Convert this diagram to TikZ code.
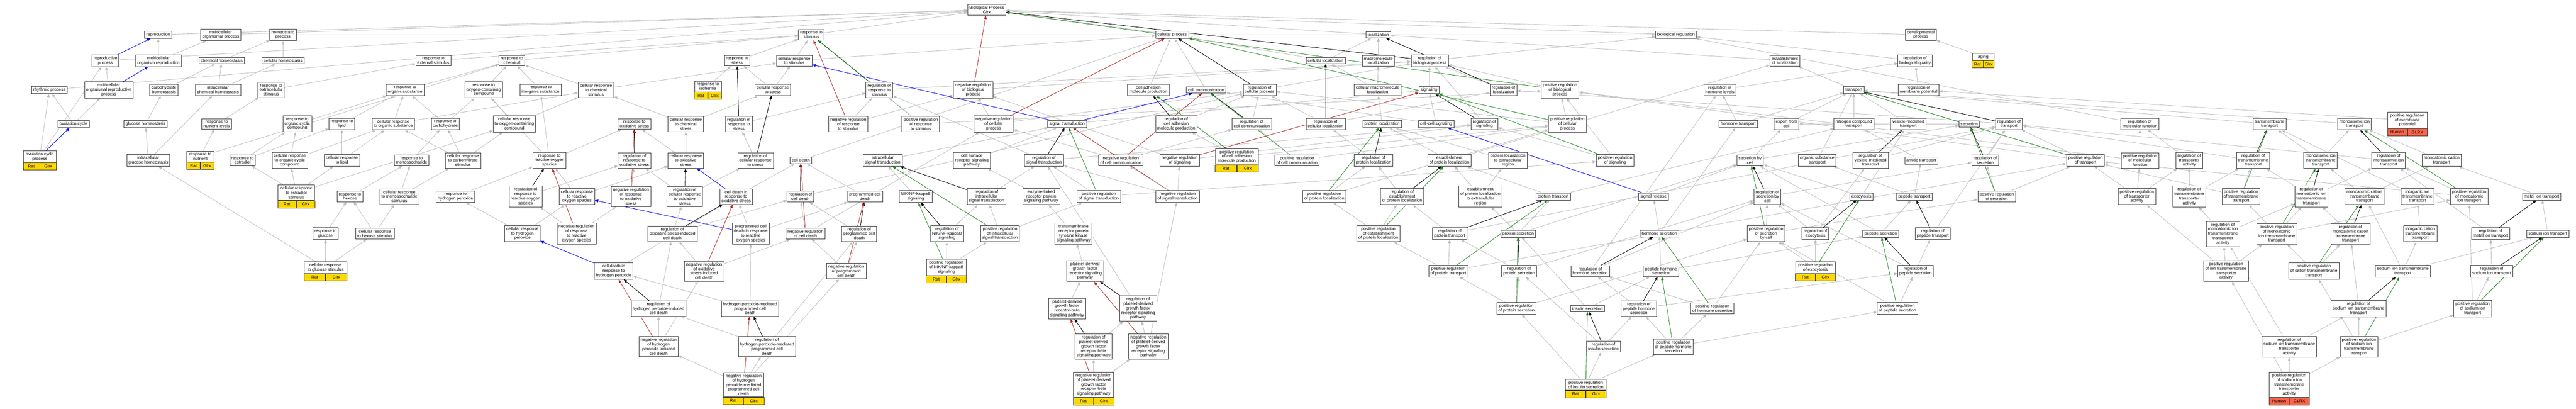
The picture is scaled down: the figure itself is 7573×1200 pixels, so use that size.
\documentclass[tikz,border=0pt]{standalone}
\usepackage{fontspec}
\setmainfont{Liberation Sans}
\usetikzlibrary{arrows.meta,backgrounds}

\definecolor{isagray}{RGB}{190,190,190}
\definecolor{negred}{RGB}{178,34,34}
\definecolor{posgreen}{RGB}{34,139,34}
\definecolor{ratgold}{RGB}{255,215,0}
\definecolor{humred}{RGB}{255,99,71}

\tikzset{
  term/.style={draw=black!75, line width=1.1pt, fill=white, align=center, inner xsep=5pt, inner ysep=4.8pt, font=\fontsize{12.5}{13.3}\selectfont},
  tagrat/.style={term, fill=ratgold, inner sep=0pt, outer sep=0pt, minimum height=21pt, minimum width=#1},
  taghum/.style={tagrat=#1, fill=humred},
  isa/.style={draw=isagray, line width=1.3pt, -{Triangle[length=10pt,width=8pt]}},
  partof/.style={isa, draw=blue},
  regul/.style={isa, draw=black},
  negreg/.style={isa, draw=negred},
  posreg/.style={isa, draw=posgreen},
}

\begin{document}
\begin{tikzpicture}[x=1pt, y=-1pt]
\useasboundingbox (0,0) rectangle (7573,1200);

% Radice
\node[term] (bp) at (2901,29) {Biological Process\\Glrx};

% Riproduzione e omeostasi
\node[term] (repro) at (465,102) {reproduction};
\node[term] (mop) at (649,102) {multicellular\\organismal process};
\node[term] (homp) at (832,102) {homeostatic\\process};
\node[term] (reprp) at (310,178) {reproductive\\process};
\node[term] (mor) at (466,178) {multicellular\\organism reproduction};
\node[term] (chemh) at (652,178) {chemical homeostasis};
\node[term] (cellh) at (832,178) {cellular homeostasis};
\node[term] (rhyth) at (145,264) {rhythmic process};
\node[term] (morp) at (320,264) {multicellular\\organismal reproductive\\process};
\node[term] (carbh) at (482,264) {carbohydrate\\homeostasis};
\node[term] (ichemh) at (641,264) {intracellular\\chemical homeostasis};
\node[term] (ovc) at (216,364) {ovulation cycle};
\node[term] (gluh) at (428,364) {glucose homeostasis};
\node[term] (rnutl) at (637,364) {response to\\nutrient levels};
\node[term, minimum width=97pt] (ovcp) at (117,460) {ovulation cycle\\process};
\node[tagrat=48.5pt, anchor=north west] (ovcp-s) at (ovcp.south west) {Rat};
\node[tagrat=48.5pt, anchor=north east] (ovcp-g) at (ovcp.south east) {Glrx};
\node[term] (iglu) at (436,471) {intracellular\\glucose homeostasis};
\node[term, minimum width=79pt] (rnut) at (589,460) {response to\\nutrient};
\node[tagrat=39.5pt, anchor=north west] (rnut-s) at (rnut.south west) {Rat};
\node[tagrat=39.5pt, anchor=north east] (rnut-g) at (rnut.south east) {Glrx};

% Risposta a sostanze chimiche
\node[term] (rext) at (1274,178) {response to\\external stimulus};
\node[term] (rextra) at (797,264) {response to\\extracellular\\stimulus};
\node[term] (rorg) at (1191,264) {response to\\organic substance};
\node[term] (rocc) at (874,364) {response to\\organic cyclic\\compound};
\node[term] (rlip) at (1005,364) {response to\\lipid};
\node[term] (crorg) at (1156,364) {cellular response\\to organic substance};
\node[term] (rcarb) at (1309,364) {response to\\carbohydrate};
\node[term] (restr) at (713,471) {response to\\estradiol};
\node[term] (crocc) at (852,471) {cellular response\\to organic cyclic\\compound};
\node[term] (crlip) at (1005,471) {cellular response\\to lipid};
\node[term] (rmono) at (1210,471) {response to\\monosaccharide};
\node[term, minimum width=108pt] (crestr) at (871,566) {cellular response\\to estradiol\\stimulus};
\node[tagrat=54pt, anchor=north west] (crestr-s) at (crestr.south west) {Rat};
\node[tagrat=54pt, anchor=north east] (crestr-g) at (crestr.south east) {Glrx};
\node[term] (rhex) at (1029,577) {response to\\hexose};
\node[term] (crmono) at (1174,577) {cellular response\\to monosaccharide\\stimulus};
\node[term] (rglu) at (957,686) {response to\\glucose};
\node[term] (crhex) at (1102,686) {cellular response\\to hexose stimulus};
\node[term, minimum width=125pt] (crglu) at (957,786) {cellular response\\to glucose stimulus};
\node[tagrat=62.5pt, anchor=north west] (crglu-s) at (crglu.south west) {Rat};
\node[tagrat=62.5pt, anchor=north east] (crglu-g) at (crglu.south east) {Glrx};

\node[term] (rchem) at (1505,178) {response to\\chemical};
\node[term] (roxy) at (1422,264) {response to\\oxygen-containing\\compound};
\node[term] (rinorg) at (1589,264) {response to\\inorganic substance};
\node[term] (crchem) at (1752,264) {cellular response\\to chemical\\stimulus};
\node[term] (croxy) at (1512,364) {cellular response\\to oxygen-containing\\compound};
\node[term] (roxs) at (1865,364) {response to\\oxidative stress};
\node[term] (crcarb) at (1361,471) {cellular response\\to carbohydrate\\stimulus};
\node[term] (rros) at (1615,471) {response to\\reactive oxygen\\species};
\node[term] (rroxs) at (1865,471) {regulation of\\response to\\oxidative stress};
\node[term] (rh2o2) at (1339,577) {response to\\hydrogen peroxide};
\node[term] (rrros) at (1545,577) {regulation of\\response to\\reactive oxygen\\species};
\node[term] (crros) at (1696,577) {cellular response\\to reactive\\oxygen species};
\node[term] (nrroxs) at (1855,577) {negative regulation\\of response\\to oxidative\\stress};
\node[term] (crh2o2) at (1536,686) {cellular response\\to hydrogen\\peroxide};
\node[term] (nrrros) at (1695,686) {negative regulation\\of response\\to reactive\\oxygen species};
\node[term] (cdh2o2) at (1804,796) {cell death in\\response to\\hydrogen peroxide};
\node[term] (rhicd) at (1936,906) {regulation of\\hydrogen peroxide-induced\\cell death};
\node[term] (nrhicd) at (1936,1018) {negative regulation\\of hydrogen\\peroxide-induced\\cell death};

% Stress e morte cellulare
\node[term] (rstim) at (2385,102) {response to\\stimulus};
\node[term] (rstress) at (2167,178) {response to\\stress};
\node[term] (crstim) at (2335,178) {cellular response\\to stimulus};
\node[term, minimum width=79pt] (risch) at (2081,254) {response to\\ischemia};
\node[tagrat=39.5pt, anchor=north west] (risch-s) at (risch.south west) {Rat};
\node[tagrat=39.5pt, anchor=north east] (risch-g) at (risch.south east) {Glrx};
\node[term] (crstress) at (2272,264) {cellular response\\to stress};
\node[term] (crcs) at (2016,364) {cellular response\\to chemical\\stress};
\node[term] (rrstress) at (2172,364) {regulation of\\response to\\stress};
\node[term] (nrrstim) at (2494,364) {negative regulation\\of response\\to stimulus};
\node[term] (croxs) at (2016,471) {cellular response\\to oxidative\\stress};
\node[term] (rcrstress) at (2221,471) {regulation of\\cellular response\\to stress};
\node[term] (cdeath) at (2354,471) {cell death};
\node[term] (rcroxs) at (2013,577) {regulation of\\cellular response\\to oxidative\\stress};
\node[term] (cdoxs) at (2164,577) {cell death in\\response to\\oxidative stress};
\node[term] (rcd) at (2353,577) {regulation of\\cell death};
\node[term] (pcd) at (2543,577) {programmed cell\\death};
\node[term] (rosicd) at (1977,686) {regulation of\\oxidative stress-induced\\cell death};
\node[term] (pcdros) at (2207,686) {programmed cell\\death in response\\to reactive\\oxygen species};
\node[term] (nrcd) at (2368,686) {negative regulation\\of cell death};
\node[term] (rpcd) at (2526,686) {regulation of\\programmed cell\\death};
\node[term] (nrosicd) at (2070,796) {negative regulation\\of oxidative\\stress-induced\\cell death};
\node[term] (nrpcd) at (2488,796) {negative regulation\\of programmed\\cell death};
\node[term] (hpcd) at (2205,906) {hydrogen peroxide-mediated\\programmed cell\\death};
\node[term] (rhpcd) at (2255,1018) {regulation of\\hydrogen peroxide-mediated\\programmed cell\\death};
\node[term, minimum width=119pt] (nrhpcd) at (2186,1130) {negative regulation\\of hydrogen\\peroxide-mediated\\programmed cell\\death};
\node[tagrat=59.5pt, anchor=north west] (nrhpcd-s) at (nrhpcd.south west) {Rat};
\node[tagrat=59.5pt, anchor=north east] (nrhpcd-g) at (nrhpcd.south east) {Glrx};

% Trasduzione del segnale
\node[term] (rrstim) at (2585,264) {regulation of\\response to\\stimulus};
\node[term] (nrbp) at (2861,264) {negative regulation\\of biological\\process};
\node[term] (prrstim) at (2707,364) {positive regulation\\of response\\to stimulus};
\node[term] (nrcp) at (2921,364) {negative regulation\\of cellular\\process};
\node[term] (sigtr) at (3137,364) {signal transduction};
\node[term] (ist) at (2595,471) {intracellular\\signal transduction};
\node[term] (csrsp) at (2857,471) {cell surface\\receptor signaling\\pathway};
\node[term] (rst) at (3069,471) {regulation of\\signal transduction};
\node[term] (nfkb) at (2692,577) {NIK/NF-kappaB\\signaling};
\node[term] (rist) at (2900,577) {regulation of\\intracellular\\signal transduction};
\node[term] (elrp) at (3061,577) {enzyme-linked\\receptor protein\\signaling pathway};
\node[term] (rnfkb) at (2784,686) {regulation of\\NIK/NF-kappaB\\signaling};
\node[term] (prist) at (2940,686) {positive regulation\\of intracellular\\signal transduction};
\node[term] (rtk) at (3156,686) {transmembrane\\receptor protein\\tyrosine kinase\\signaling pathway};
\node[term, minimum width=117pt] (prnfkb) at (2782,785) {positive regulation\\of NIK/NF-kappaB\\signaling};
\node[tagrat=58.5pt, anchor=north west] (prnfkb-s) at (prnfkb.south west) {Rat};
\node[tagrat=58.5pt, anchor=north east] (prnfkb-g) at (prnfkb.south east) {Glrx};
\node[term] (pdgf) at (3190,796) {platelet-derived\\growth factor\\receptor signaling\\pathway};
\node[term] (pdgfb) at (3137,906) {platelet-derived\\growth factor\\receptor-beta\\signaling pathway};
\node[term] (rpdgfb) at (3215,1018) {regulation of\\platelet-derived\\growth factor\\receptor-beta\\signaling pathway};
\node[term, minimum width=118pt] (nrpdgfb) at (3215,1130) {negative regulation\\of platelet-derived\\growth factor\\receptor-beta\\signaling pathway};
\node[tagrat=59pt, anchor=north west] (nrpdgfb-s) at (nrpdgfb.south west) {Rat};
\node[tagrat=59pt, anchor=north east] (nrpdgfb-g) at (nrpdgfb.south east) {Glrx};

% Comunicazione cellulare
\node[term] (cproc) at (3446,102) {cellular process};
\node[term] (camp) at (3376,264) {cell adhesion\\molecule production};
\node[term] (ccomm) at (3546,264) {cell communication};
\node[term] (rcp) at (3703,264) {regulation of\\cellular process};
\node[term] (rcamp) at (3458,364) {regulation of\\cell adhesion\\molecule production};
\node[term] (rcc) at (3680,364) {regulation of\\cell communication};
\node[term] (nrcc) at (3295,471) {negative regulation\\of cell communication};
\node[term] (nrsig) at (3468,471) {negative regulation\\of signaling};
\node[term, minimum width=126pt] (prcamp) at (3636,460) {positive regulation\\of cell adhesion\\molecule production};
\node[tagrat=63pt, anchor=north west] (prcamp-s) at (prcamp.south west) {Rat};
\node[tagrat=63pt, anchor=north east] (prcamp-g) at (prcamp.south east) {Glrx};
\node[term] (prcc) at (3813,471) {positive regulation\\of cell communication};
\node[term] (prst) at (3230,577) {positive regulation\\of signal transduction};
\node[term] (nrst) at (3462,577) {negative regulation\\of signal transduction};
\node[term] (rpdgf) at (3346,906) {regulation of\\platelet-derived\\growth factor\\receptor signaling\\pathway};
\node[term] (nrpdgf) at (3376,1018) {negative regulation\\of platelet-derived\\growth factor\\receptor signaling\\pathway};

% Localizzazione
\node[term] (loc) at (4052,102) {localization};
\node[term] (cloc) at (3897,178) {cellular localization};
\node[term] (mloc) at (4052,178) {macromolecule\\localization};
\node[term] (rbp) at (4203,178) {regulation of\\biological process};
\node[term] (cmloc) at (4050,264) {cellular macromolecule\\localization};
\node[term] (sig) at (4201,264) {signaling};
\node[term] (rloc) at (4420,264) {regulation of\\localization};
\node[term] (rcloc) at (3897,364) {regulation of\\cellular localization};
\node[term] (ploc) at (4063,364) {protein localization};
\node[term] (ccsig) at (4222,364) {cell-cell signaling};
\node[term] (rsig) at (4364,364) {regulation of\\signaling};
\node[term] (rploc) at (4038,471) {regulation of\\protein localization};
\node[term] (eploc) at (4261,471) {establishment\\of protein localization};
\node[term] (pler) at (4433,471) {protein localization\\to extracellular\\region};
\node[term] (prploc) at (3893,577) {positive regulation\\of protein localization};
\node[term] (reploc) at (4122,577) {regulation of\\establishment\\of protein localization};
\node[term] (epler) at (4352,577) {establishment\\of protein localization\\to extracellular\\region};
\node[term] (preploc) at (4052,686) {positive regulation\\of establishment\\of protein localization};
\node[term] (rpt) at (4262,686) {regulation of\\protein transport};
\node[term] (prpt) at (4258,796) {positive regulation\\of protein transport};

% Secrezione
\node[term] (breg) at (4927,102) {biological regulation};
\node[term] (prbp) at (4586,264) {positive regulation\\of biological\\process};
\node[term] (rhl) at (5056,264) {regulation of\\hormone levels};
\node[term] (prcp) at (4608,364) {positive regulation\\of cellular\\process};
\node[term] (prsig) at (4748,471) {positive regulation\\of signaling};
\node[term] (ptrans) at (4566,577) {protein transport};
\node[term] (srel) at (4861,577) {signal release};
\node[term] (psec) at (4463,686) {protein secretion};
\node[term] (hsec) at (4878,686) {hormone secretion};
\node[term] (rpsec) at (4466,796) {regulation of\\protein secretion};
\node[term] (rhsec) at (4675,796) {regulation of\\hormone secretion};
\node[term] (phsec) at (4883,796) {peptide hormone\\secretion};
\node[term] (prpsec) at (4458,906) {positive regulation\\of protein secretion};
\node[term] (isec) at (4667,906) {insulin secretion};
\node[term] (rphsec) at (4818,906) {regulation of\\peptide hormone\\secretion};
\node[term] (prhsec) at (5034,906) {positive regulation\\of hormone secretion};
\node[term] (risec) at (4714,1018) {regulation of\\insulin secretion};
\node[term] (prphsec) at (4919,1018) {positive regulation\\of peptide hormone\\secretion};
\node[term, minimum width=119pt] (prisec) at (4662,1130) {positive regulation\\of insulin secretion};
\node[tagrat=59.5pt, anchor=north west] (prisec-s) at (prisec.south west) {Rat};
\node[tagrat=59.5pt, anchor=north east] (prisec-g) at (prisec.south east) {Glrx};

% Trasporto
\node[term] (devp) at (5647,102) {developmental\\process};
\node[term] (eloc) at (5247,178) {establishment\\of localization};
\node[term] (rbq) at (5630,178) {regulation of\\biological quality};
\node[term, minimum width=64pt] (aging) at (5830,167) {aging};
\node[tagrat=32pt, anchor=north west] (aging-s) at (aging.south west) {Rat};
\node[tagrat=32pt, anchor=north east] (aging-g) at (aging.south east) {Glrx};
\node[term] (transp) at (5450,264) {transport};
\node[term] (rmp) at (5640,264) {regulation of\\membrane potential};
\node[term] (htrans) at (5110,364) {hormone transport};
\node[term] (expc) at (5252,364) {export from\\cell};
\node[term] (nct) at (5450,364) {nitrogen compound\\transport};
\node[term] (vmt) at (5610,364) {vesicle-mediated\\transport};
\node[term] (secc) at (5145,471) {secretion by\\cell};
\node[term] (ost) at (5342,471) {organic substance\\transport};
\node[term] (rvmt) at (5499,471) {regulation of\\vesicle-mediated\\transport};
\node[term] (amide) at (5648,471) {amide transport};
\node[term] (rsecc) at (5196,577) {regulation of\\secretion by\\cell};
\node[term] (exo) at (5472,577) {exocytosis};
\node[term] (pept) at (5628,577) {peptide transport};
\node[term] (prsecc) at (5192,686) {positive regulation\\of secretion\\by cell};
\node[term] (rexo) at (5337,686) {regulation of\\exocytosis};
\node[term] (psecr) at (5529,686) {peptide secretion};
\node[term] (rpept) at (5682,686) {regulation of\\peptide transport};
\node[term, minimum width=117pt] (prexo) at (5337,786) {positive regulation\\of exocytosis};
\node[tagrat=58.5pt, anchor=north west] (prexo-s) at (prexo.south west) {Rat};
\node[tagrat=58.5pt, anchor=north east] (prexo-g) at (prexo.south east) {Glrx};
\node[term] (rpsecr) at (5631,796) {regulation of\\peptide secretion};
\node[term] (prpsecr) at (5578,906) {positive regulation\\of peptide secretion};

\node[term] (secr) at (5789,364) {secretion};
\node[term] (rtrans) at (5906,364) {regulation of\\transport};
\node[term] (rmf) at (6291,364) {regulation of\\molecular function};
\node[term] (rsecr) at (5836,471) {regulation of\\secretion};
\node[term] (prtrans) at (6131,471) {positive regulation\\of transport};
\node[term] (prmf) at (6291,471) {positive regulation\\of molecular\\function};
\node[term] (prsecr) at (5870,577) {positive regulation\\of secretion};
\node[term] (prta) at (6282,577) {positive regulation\\of transporter\\activity};

% Trasporto di ioni
\node[term] (tmt) at (6672,364) {transmembrane\\transport};
\node[term] (mit) at (6922,364) {monoatomic ion\\transport};
\node[term, minimum width=116pt] (prmp) at (7077,353) {positive regulation\\of membrane\\potential};
\node[taghum=58pt, anchor=north west] (prmp-s) at (prmp.south west) {Human};
\node[taghum=58pt, anchor=north east] (prmp-g) at (prmp.south east) {GLRX};
\node[term] (rta) at (6436,471) {regulation of\\transporter\\activity};
\node[term] (rtmt) at (6624,471) {regulation of\\transmembrane\\transport};
\node[term] (mitt) at (6822,471) {monoatomic ion\\transmembrane\\transport};
\node[term] (rmit) at (7022,471) {regulation of\\monoatomic ion\\transport};
\node[term] (mct) at (7178,471) {monoatomic cation\\transport};
\node[term] (rtmta) at (6436,577) {regulation of\\transmembrane\\transporter\\activity};
\node[term] (prtmt) at (6588,577) {positive regulation\\of transmembrane\\transport};
\node[term] (rmitt) at (6795,577) {regulation of\\monoatomic ion\\transmembrane\\transport};
\node[term] (mctt) at (6951,577) {monoatomic cation\\transmembrane\\transport};
\node[term] (iitt) at (7107,577) {inorganic ion\\transmembrane\\transport};
\node[term] (prmit) at (7259,577) {positive regulation\\of monoatomic\\ion transport};
\node[term] (metal) at (7472,577) {metal ion transport};
\node[term] (rmitta) at (6535,687) {regulation of\\monoatomic ion\\transmembrane\\transporter\\activity};
\node[term] (prmitt) at (6693,687) {positive regulation\\of monoatomic\\ion transmembrane\\transport};
\node[term] (rmctt) at (6910,687) {regulation of\\monoatomic cation\\transmembrane\\transport};
\node[term] (ictt) at (7115,686) {inorganic cation\\transmembrane\\transport};
\node[term] (rmetal) at (7322,686) {regulation of\\metal ion transport};
\node[term] (sodium) at (7490,686) {sodium ion transport};
\node[term] (pritta) at (6544,796) {positive regulation\\of ion transmembrane\\transporter\\activity};
\node[term] (prctt) at (6802,796) {positive regulation\\of cation transmembrane\\transport};
\node[term] (sitt) at (7064,796) {sodium ion transmembrane\\transport};
\node[term] (rsit) at (7325,796) {regulation of\\sodium ion transport};
\node[term] (rsitt) at (6934,906) {regulation of\\sodium ion transmembrane\\transport};
\node[term] (prsit) at (7269,906) {positive regulation\\of sodium ion\\transport};
\node[term] (rsitta) at (6730,1018) {regulation of\\sodium ion transmembrane\\transporter\\activity};
\node[term] (prsitt) at (6935,1018) {positive regulation\\of sodium ion\\transmembrane\\transport};
\node[term, minimum width=117pt] (prsitta) at (6730,1130) {positive regulation\\of sodium ion\\transmembrane\\transporter\\activity};
\node[taghum=58.5pt, anchor=north west] (prsitta-s) at (prsitta.south west) {Human};
\node[taghum=58.5pt, anchor=north east] (prsitta-g) at (prsitta.south east) {GLRX};

% Archi
\begin{scope}[on background layer]
\fill[white] (0,0) rectangle (7573,1200);
\draw[isa] (repro) -- (bp); \draw[isa] (mop) -- (bp); \draw[isa] (reprp) -- (bp);
\draw[isa] (rhyth) -- (bp); \draw[isa] (rstim) -- (bp); \draw[isa] (cproc) -- (bp);
\draw[isa] (loc) -- (bp); \draw[isa] (breg) -- (bp); \draw[isa] (devp) -- (bp);
\draw[regul] (rbp) -- (bp); \draw[negreg] (nrbp) -- (bp); \draw[posreg] (prbp) -- (bp);

\draw[partof] (reprp) -- (repro); \draw[isa] (mor) -- (repro); \draw[isa] (mor) -- (mop);
\draw[isa] (morp) -- (reprp); \draw[partof] (morp) -- (mor);
\draw[isa] (ovcp) -- (rhyth); \draw[partof] (ovcp) -- (ovc); \draw[isa] (ovcp) -- (reprp);
\draw[isa] (ovc) -- (rhyth); \draw[isa] (ovc) -- (morp);
\draw[isa] (carbh) -- (chemh); \draw[isa] (gluh) -- (carbh);
\draw[isa] (iglu) -- (gluh); \draw[isa] (iglu) -- (ichemh);
\draw[isa] (rnut) -- (rnutl); \draw[isa] (rnut) -- (rchem);
\draw[isa] (chemh) -- (homp); \draw[isa] (ichemh) -- (chemh); \draw[isa] (ichemh) -- (cellh);
\draw[isa] (cellh) -- (homp); \draw[isa] (homp) -- (breg);
\draw[isa] (rnutl) -- (rextra); \draw[isa] (rextra) -- (rext); \draw[isa] (rext) -- (rstim);
\draw[isa] (crglu) -- (iglu);

\draw[isa] (restr) -- (rocc); \draw[isa] (restr) -- (rlip);
\draw[isa] (rocc) -- (rorg); \draw[isa] (rlip) -- (rorg);
\draw[isa] (crocc) -- (rocc); \draw[isa] (crocc) -- (crorg);
\draw[isa] (crlip) -- (rlip); \draw[isa] (crlip) -- (crorg);
\draw[isa] (crorg) -- (rorg); \draw[isa] (crorg) -- (crchem); \draw[isa] (rorg) -- (rchem);
\draw[isa] (crestr) -- (restr); \draw[isa] (crestr) -- (crocc);
\draw[isa] (crestr) -- (crlip); \draw[isa] (crestr) -- (croxy);
\draw[isa] (rmono) -- (rcarb); \draw[isa] (rhex) -- (rmono);
\draw[isa] (crmono) -- (rmono); \draw[isa] (crmono) -- (crcarb);
\draw[isa] (rglu) -- (rhex); \draw[isa] (crhex) -- (rhex); \draw[isa] (crhex) -- (crmono);
\draw[isa] (crglu) -- (rglu); \draw[isa] (crglu) -- (crhex);

\draw[isa] (roxy) -- (rchem); \draw[isa] (rinorg) -- (rchem);
\draw[isa] (crchem) -- (rchem); \draw[isa] (crchem) -- (crstim);
\draw[isa] (rcarb) -- (roxy); \draw[isa] (rcarb) -- (rorg);
\draw[isa] (croxy) -- (roxy); \draw[isa] (croxy) -- (crchem);
\draw[isa] (crcarb) -- (rcarb); \draw[isa] (crcarb) -- (croxy); \draw[isa] (crcarb) -- (crorg);
\draw[isa] (rros) -- (roxs); \draw[isa] (rros) -- (rinorg); \draw[isa] (rros) -- (roxy);
\draw[isa] (rh2o2) -- (rros);
\draw[regul] (rroxs) -- (roxs);
\draw[regul] (rrros) -- (rros); \draw[isa] (rrros) -- (rroxs);
\draw[isa] (crros) -- (rros); \draw[isa] (crros) -- (croxs);
\draw[negreg] (nrroxs) -- (roxs); \draw[isa] (nrroxs) -- (rroxs);
\draw[isa] (crh2o2) -- (rh2o2); \draw[isa] (crh2o2) -- (crros);
\draw[negreg] (nrrros) -- (rros); \draw[isa] (nrrros) -- (rrros); \draw[isa] (nrrros) -- (nrroxs);
\draw[partof] (cdh2o2) -- (crh2o2); \draw[isa] (cdh2o2) -- (cdoxs);
\draw[partof] (pcdros) -- (crros);

\draw[isa] (rstress) -- (rstim); \draw[isa] (crstim) -- (rstim); \draw[isa] (rchem) -- (rstim);
\draw[isa] (crstim) -- (cproc); \draw[isa] (risch) -- (rstress);
\draw[isa] (crstress) -- (rstress); \draw[isa] (crstress) -- (crstim);
\draw[regul] (rrstress) -- (rstress); \draw[isa] (rrstress) -- (rrstim);
\draw[isa] (crcs) -- (crstress); \draw[isa] (crcs) -- (crchem);
\draw[isa] (croxs) -- (crcs); \draw[isa] (croxs) -- (roxs);
\draw[isa] (rcrstress) -- (rrstress); \draw[regul] (rcrstress) -- (crstress);
\draw[regul] (rcroxs) -- (croxs); \draw[isa] (rcroxs) -- (rcrstress); \draw[isa] (rcroxs) -- (rroxs);
\draw[partof] (cdoxs) -- (croxs); \draw[isa] (cdoxs) -- (cdeath);
\draw[isa] (pcdros) -- (cdoxs); \draw[isa] (pcdros) -- (pcd);
\draw[regul] (rcd) -- (cdeath); \draw[isa] (rcd) -- (rcp);
\draw[negreg] (nrcd) -- (cdeath); \draw[isa] (nrcd) -- (rcd); \draw[isa] (nrcd) -- (nrcp);
\draw[isa] (pcd) -- (cdeath); \draw[isa] (cdeath) -- (cproc);
\draw[regul] (rpcd) -- (pcd); \draw[isa] (rpcd) -- (rcd);
\draw[isa] (nrpcd) -- (rpcd); \draw[isa] (nrpcd) -- (nrcd); \draw[negreg] (nrpcd) -- (pcd);
\draw[regul] (rosicd) -- (cdoxs); \draw[isa] (rosicd) -- (rcd); \draw[isa] (rosicd) -- (rcroxs);
\draw[isa] (nrosicd) -- (rosicd); \draw[negreg] (nrosicd) -- (cdoxs); \draw[isa] (nrosicd) -- (nrcd);
\draw[isa] (rhicd) -- (rosicd); \draw[regul] (rhicd) -- (cdh2o2);
\draw[isa] (hpcd) -- (cdh2o2); \draw[isa] (hpcd) -- (pcdros);
\draw[isa] (nrhicd) -- (rhicd); \draw[isa] (nrhicd) -- (nrosicd); \draw[negreg] (nrhicd) -- (cdh2o2);
\draw[regul] (rhpcd) -- (hpcd); \draw[isa] (rhpcd) -- (rhicd); \draw[isa] (rhpcd) -- (rpcd);
\draw[negreg] (nrhpcd) -- (hpcd); \draw[isa] (nrhpcd) -- (rhpcd);
\draw[isa] (nrhpcd) -- (nrhicd); \draw[isa] (nrhpcd) -- (nrpcd);

\draw[regul] (rrstim) -- (rstim); \draw[isa] (rrstim) -- (rbp);
\draw[posreg] (prrstim) -- (rstim); \draw[isa] (prrstim) -- (rrstim); \draw[isa] (prrstim) -- (prbp);
\draw[negreg] (nrrstim) -- (rstim); \draw[isa] (nrrstim) -- (rrstim); \draw[isa] (nrrstim) -- (nrbp);
\draw[isa] (nrbp) -- (rbp);
\draw[negreg] (nrcp) -- (cproc); \draw[isa] (nrcp) -- (nrbp); \draw[isa] (nrcp) -- (rcp);
\draw[partof] (sigtr) -- (crstim); \draw[partof] (sigtr) -- (ccomm); \draw[isa] (sigtr) -- (sig);
\draw[isa] (ist) -- (sigtr); \draw[isa] (csrsp) -- (sigtr);
\draw[regul] (rst) -- (sigtr); \draw[isa] (rst) -- (rsig); \draw[isa] (rst) -- (rrstim);
\draw[isa] (nfkb) -- (ist);
\draw[regul] (rist) -- (ist); \draw[isa] (rist) -- (rst);
\draw[isa] (elrp) -- (csrsp);
\draw[regul] (rnfkb) -- (nfkb); \draw[isa] (rnfkb) -- (rist);
\draw[posreg] (prist) -- (ist); \draw[isa] (prist) -- (rist); \draw[isa] (prist) -- (prst);
\draw[isa] (rtk) -- (elrp);
\draw[posreg] (prnfkb) -- (nfkb); \draw[isa] (prnfkb) -- (rnfkb); \draw[isa] (prnfkb) -- (prist);
\draw[isa] (pdgf) -- (rtk); \draw[isa] (pdgfb) -- (pdgf);
\draw[regul] (rpdgfb) -- (pdgfb); \draw[isa] (rpdgfb) -- (rpdgf);
\draw[negreg] (nrpdgfb) -- (pdgfb); \draw[isa] (nrpdgfb) -- (rpdgfb); \draw[isa] (nrpdgfb) -- (nrpdgf);

\draw[isa] (camp) -- (cproc); \draw[isa] (ccomm) -- (cproc);
\draw[regul] (rcp) -- (cproc); \draw[isa] (rcp) -- (rbp);
\draw[regul] (rcamp) -- (camp); \draw[isa] (rcamp) -- (rcp);
\draw[regul] (rcc) -- (ccomm); \draw[isa] (rcc) -- (rcp);
\draw[posreg] (prcamp) -- (camp); \draw[isa] (prcamp) -- (rcamp); \draw[isa] (prcamp) -- (prcp);
\draw[negreg] (nrcc) -- (ccomm); \draw[isa] (nrcc) -- (rcc); \draw[isa] (nrcc) -- (nrcp);
\draw[negreg] (nrsig) -- (sig); \draw[isa] (nrsig) -- (rsig); \draw[isa] (nrsig) -- (nrbp);
\draw[posreg] (prcc) -- (ccomm); \draw[isa] (prcc) -- (rcc); \draw[isa] (prcc) -- (prcp);
\draw[posreg] (prst) -- (sigtr); \draw[isa] (prst) -- (rst); \draw[isa] (prst) -- (prsig);
\draw[negreg] (nrst) -- (sigtr); \draw[isa] (nrst) -- (nrsig); \draw[isa] (nrst) -- (rst); \draw[isa] (nrst) -- (nrcc);
\draw[regul] (rpdgf) -- (pdgf); \draw[isa] (rpdgf) -- (rst);
\draw[negreg] (nrpdgf) -- (pdgf); \draw[isa] (nrpdgf) -- (rpdgf); \draw[isa] (nrpdgf) -- (nrst);

\draw[isa] (cloc) -- (loc); \draw[isa] (cloc) -- (cproc); \draw[isa] (mloc) -- (loc);
\draw[isa] (rbp) -- (breg);
\draw[regul] (rloc) -- (loc); \draw[isa] (rloc) -- (rbp);
\draw[isa] (cmloc) -- (mloc); \draw[isa] (cmloc) -- (cloc);
\draw[isa] (sig) -- (rbp);
\draw[regul] (rcloc) -- (cloc); \draw[isa] (rcloc) -- (rloc); \draw[isa] (rcloc) -- (rcp);
\draw[isa] (ploc) -- (cmloc);
\draw[isa] (ccsig) -- (sig); \draw[isa] (ccsig) -- (ccomm);
\draw[regul] (rsig) -- (sig); \draw[isa] (rsig) -- (rbp);
\draw[regul] (rploc) -- (ploc); \draw[isa] (rploc) -- (rcloc);
\draw[isa] (eploc) -- (ploc); \draw[isa] (eploc) -- (eloc); \draw[isa] (pler) -- (ploc);
\draw[posreg] (prploc) -- (ploc); \draw[isa] (prploc) -- (rploc); \draw[isa] (prploc) -- (prcp);
\draw[regul] (reploc) -- (eploc); \draw[isa] (reploc) -- (rploc);
\draw[isa] (epler) -- (eploc); \draw[isa] (epler) -- (pler);
\draw[posreg] (preploc) -- (eploc); \draw[isa] (preploc) -- (reploc); \draw[isa] (preploc) -- (prploc);
\draw[isa] (rpt) -- (reploc); \draw[regul] (rpt) -- (ptrans); \draw[isa] (rpt) -- (rtrans);
\draw[isa] (prpt) -- (rpt); \draw[isa] (prpt) -- (preploc); \draw[posreg] (prpt) -- (ptrans); \draw[isa] (prpt) -- (prtrans);

\draw[isa] (rhl) -- (rbq); \draw[isa] (prbp) -- (rbp);
\draw[isa] (prcp) -- (prbp); \draw[posreg] (prcp) -- (cproc); \draw[isa] (prcp) -- (rcp);
\draw[posreg] (prsig) -- (sig); \draw[isa] (prsig) -- (prbp); \draw[isa] (prsig) -- (rsig);
\draw[isa] (ptrans) -- (eploc); \draw[isa] (ptrans) -- (nct);
\draw[partof] (srel) -- (ccsig); \draw[isa] (srel) -- (secc);
\draw[isa] (psec) -- (ptrans); \draw[isa] (psec) -- (epler); \draw[isa] (psec) -- (secc);
\draw[isa] (hsec) -- (srel); \draw[isa] (hsec) -- (htrans);
\draw[regul] (rpsec) -- (psec); \draw[isa] (rpsec) -- (rpt); \draw[isa] (rpsec) -- (rsecc);
\draw[regul] (rhsec) -- (hsec); \draw[isa] (rhsec) -- (rhl); \draw[isa] (rhsec) -- (rsecc);
\draw[isa] (phsec) -- (hsec); \draw[isa] (phsec) -- (psecr);
\draw[isa] (prpsec) -- (rpsec); \draw[posreg] (prpsec) -- (psec); \draw[isa] (prpsec) -- (prpt); \draw[isa] (prpsec) -- (prsecc);
\draw[isa] (isec) -- (phsec); \draw[isa] (isec) -- (psec);
\draw[regul] (rphsec) -- (phsec); \draw[isa] (rphsec) -- (rhsec); \draw[isa] (rphsec) -- (rpsecr);
\draw[posreg] (prhsec) -- (hsec); \draw[isa] (prhsec) -- (rhsec); \draw[isa] (prhsec) -- (prsecc);
\draw[regul] (risec) -- (isec); \draw[isa] (risec) -- (rphsec); \draw[isa] (risec) -- (rpsec);
\draw[posreg] (prphsec) -- (phsec); \draw[isa] (prphsec) -- (rphsec); \draw[isa] (prphsec) -- (prhsec); \draw[isa] (prphsec) -- (prpsecr);
\draw[posreg] (prisec) -- (isec); \draw[isa] (prisec) -- (risec); \draw[isa] (prisec) -- (prphsec); \draw[isa] (prisec) -- (prpsec);

\draw[isa] (eloc) -- (loc); \draw[isa] (transp) -- (eloc); \draw[isa] (rbq) -- (breg);
\draw[isa] (rmp) -- (rbq); \draw[isa] (aging) -- (devp);
\draw[isa] (htrans) -- (transp); \draw[isa] (htrans) -- (rhl);
\draw[isa] (expc) -- (transp); \draw[isa] (nct) -- (transp); \draw[isa] (vmt) -- (transp);
\draw[isa] (secc) -- (expc); \draw[isa] (secc) -- (secr); \draw[isa] (ost) -- (transp);
\draw[regul] (rvmt) -- (vmt); \draw[isa] (rvmt) -- (rtrans); \draw[isa] (amide) -- (nct);
\draw[regul] (rsecc) -- (secc); \draw[isa] (rsecc) -- (rsecr);
\draw[isa] (exo) -- (secc); \draw[isa] (exo) -- (vmt);
\draw[isa] (pept) -- (amide); \draw[isa] (pept) -- (ost);
\draw[isa] (prsecc) -- (rsecc); \draw[posreg] (prsecc) -- (secc); \draw[isa] (prsecc) -- (prsecr);
\draw[regul] (rexo) -- (exo); \draw[isa] (rexo) -- (rsecc); \draw[isa] (rexo) -- (rvmt);
\draw[isa] (psecr) -- (pept); \draw[isa] (psecr) -- (secc);
\draw[regul] (rpept) -- (pept); \draw[isa] (rpept) -- (rtrans);
\draw[posreg] (prexo) -- (exo); \draw[isa] (prexo) -- (rexo); \draw[isa] (prexo) -- (prsecc);
\draw[regul] (rpsecr) -- (psecr); \draw[isa] (rpsecr) -- (rpept); \draw[isa] (rpsecr) -- (rsecc);
\draw[posreg] (prpsecr) -- (psecr); \draw[isa] (prpsecr) -- (rpsecr); \draw[isa] (prpsecr) -- (prsecc);

\draw[isa] (secr) -- (expc);
\draw[regul] (rtrans) -- (transp); \draw[isa] (rtrans) -- (rloc); \draw[isa] (rmf) -- (breg);
\draw[regul] (rsecr) -- (secr); \draw[isa] (rsecr) -- (rtrans);
\draw[isa] (prtrans) -- (rtrans); \draw[posreg] (prtrans) -- (transp); \draw[isa] (prtrans) -- (prbp);
\draw[isa] (prmf) -- (rmf); \draw[isa] (prmf) -- (prbp);
\draw[isa] (prsecr) -- (rsecr); \draw[posreg] (prsecr) -- (secr); \draw[isa] (prsecr) -- (prtrans);
\draw[isa] (prta) -- (prmf); \draw[isa] (prta) -- (prtrans); \draw[isa] (prta) -- (rta);

\draw[isa] (rta) -- (rmf); \draw[isa] (tmt) -- (transp); \draw[isa] (mit) -- (transp);
\draw[regul] (rtmt) -- (tmt); \draw[isa] (rtmt) -- (rtrans);
\draw[isa] (mitt) -- (tmt); \draw[isa] (mitt) -- (mit);
\draw[isa] (rtmta) -- (rta); \draw[isa] (rtmta) -- (rtmt);
\draw[isa] (prtmt) -- (rtmt); \draw[posreg] (prtmt) -- (tmt); \draw[isa] (prtmt) -- (prtrans);
\draw[regul] (rmitt) -- (mitt); \draw[isa] (rmitt) -- (rtmt); \draw[isa] (rmitt) -- (rmit);
\draw[isa] (mctt) -- (mitt); \draw[isa] (mctt) -- (mct);
\draw[isa] (rmitta) -- (rtmta); \draw[isa] (rmitta) -- (rmitt);
\draw[isa] (prmitt) -- (prtmt); \draw[isa] (prmitt) -- (rmitt); \draw[posreg] (prmitt) -- (mitt); \draw[isa] (prmitt) -- (prmit);
\draw[isa] (rmctt) -- (rmitt); \draw[regul] (rmctt) -- (mctt);
\draw[isa] (pritta) -- (rmitta); \draw[isa] (pritta) -- (prmitt); \draw[isa] (pritta) -- (prta);
\draw[isa] (prctt) -- (prmitt); \draw[isa] (prctt) -- (rmctt); \draw[posreg] (prctt) -- (mctt);
\draw[isa] (rsitt) -- (rmctt); \draw[regul] (rsitt) -- (sitt);
\draw[isa] (rsitta) -- (rmitta); \draw[isa] (rsitta) -- (rsitt);
\draw[isa] (prsitt) -- (rsitt); \draw[isa] (prsitt) -- (prctt); \draw[posreg] (prsitt) -- (sitt); \draw[isa] (prsitt) -- (prsit);
\draw[isa] (prsitta) -- (rsitta); \draw[isa] (prsitta) -- (pritta); \draw[isa] (prsitta) -- (prsitt);

\draw[isa] (prmp) -- (rmp);
\draw[regul] (rmit) -- (mit); \draw[isa] (rmit) -- (rtrans); \draw[isa] (mct) -- (mit);
\draw[isa] (iitt) -- (tmt);
\draw[isa] (prmit) -- (rmit); \draw[posreg] (prmit) -- (mit); \draw[isa] (prmit) -- (prtrans);
\draw[isa] (metal) -- (mct); \draw[isa] (ictt) -- (iitt);
\draw[regul] (rmetal) -- (metal); \draw[isa] (rmetal) -- (rmit);
\draw[isa] (sodium) -- (metal);
\draw[isa] (sitt) -- (mctt); \draw[isa] (sitt) -- (ictt); \draw[isa] (sitt) -- (sodium);
\draw[regul] (rsit) -- (sodium); \draw[isa] (rsit) -- (rmetal);
\draw[isa] (prsit) -- (rsit); \draw[posreg] (prsit) -- (sodium); \draw[isa] (prsit) -- (prmit);
\end{scope}

\end{tikzpicture}
\end{document}
